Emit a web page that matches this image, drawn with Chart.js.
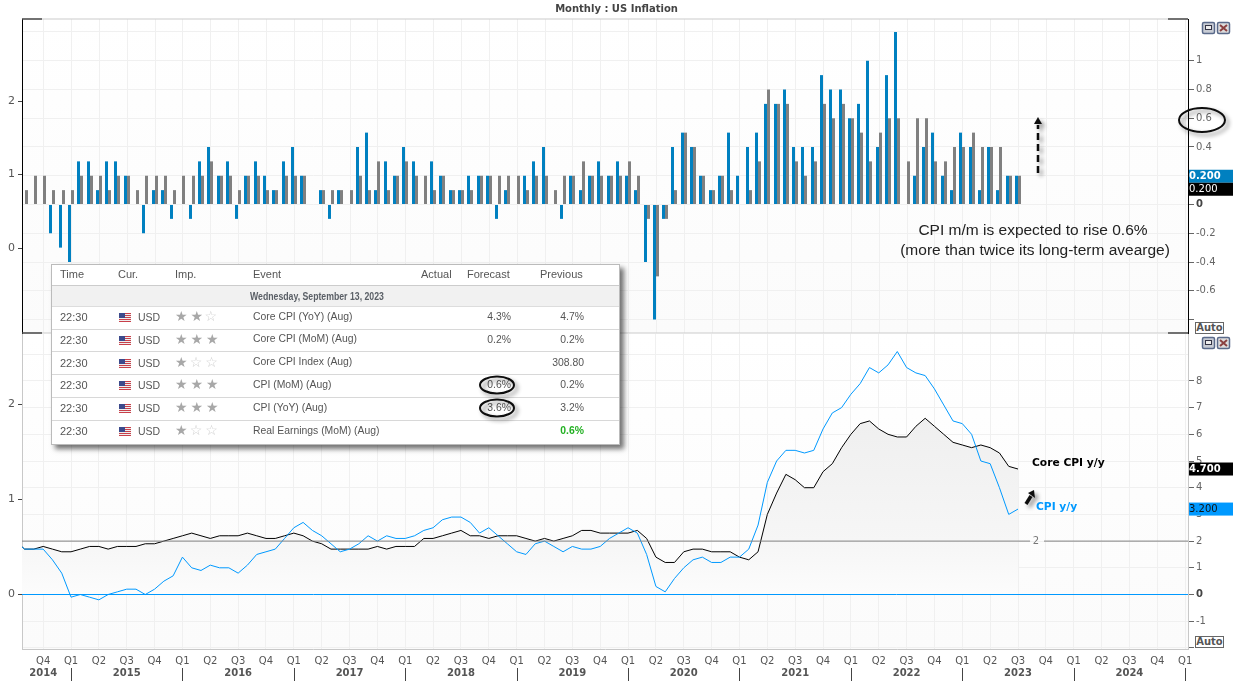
<!DOCTYPE html>
<html>
<head>
<meta charset="utf-8">
<title>Monthly : US Inflation</title>
<script src="https://cdn.jsdelivr.net/npm/chart.js@4"></script>
<style>
html, body { margin: 0; padding: 0; background: #fff; width: 1233px; height: 681px; overflow: hidden; }
canvas { position: absolute; left: 0; }
#topChart { top: 0; }
#bottomChart { top: 334px; }
.auto { position: absolute; left: 1195px; width: 27px; height: 10px; border: 1px solid #666; background: #fff;
  font: bold 10px/10px "DejaVu Sans"; color: #555; text-align: center; }
#calendar { position: absolute; left: 51px; top: 264px; width: 567px; height: 179px; background: #fff;
  border: 1px solid #bbb; box-shadow: 4px 4px 5px rgba(0,0,0,.55); font: 10.4px "Liberation Sans", Arial; color: #555; }
#calendar span { position: absolute; white-space: nowrap; }
#calendar .rule { position: absolute; left: 0; right: 0; height: 1px; background: #d8d8d8; }
#calendar .band { position: absolute; left: 0; right: 0; top: 20px; height: 20px; background: #f1f1f1; border-top: 1px solid #ccc; border-bottom: 1px solid #ddd; }
#calendar .flag { position: absolute; width: 12px; height: 9px;
  background: linear-gradient(#3c4a8c, #3c4a8c) 0 0 / 6px 5px no-repeat, repeating-linear-gradient(#c8404a 0 1px, #eee 1px 2px); }
svg { position: absolute; left: 0; top: 0; pointer-events: none; }
</style>
</head>
<body>
<canvas id="topChart" width="1233" height="334"></canvas>
<canvas id="bottomChart" width="1233" height="347"></canvas>
<div class="auto" style="top:322px">Auto</div>
<div class="auto" style="top:636px">Auto</div>
<div id="calendar"></div>
<svg width="1233" height="681">
  <defs>
    <filter id="soft" x="-50%" y="-50%" width="200%" height="200%">
      <feDropShadow dx="3" dy="3" stdDeviation="2" flood-color="#000" flood-opacity="0.45"/>
    </filter>
  </defs>
  <g filter="url(#soft)" fill="none" stroke="#111" stroke-width="2">
    <ellipse cx="1202" cy="120" rx="23" ry="12"/>
    <ellipse cx="497" cy="385" rx="17" ry="8.5"/>
    <ellipse cx="497" cy="408" rx="17" ry="8.5"/>
    <line x1="1038" y1="173" x2="1038" y2="125" stroke-width="2.5" stroke-dasharray="7 4"/>
    <path d="M1034 124 L1042 124 L1038 117 Z" fill="#111" stroke="none"/>
    <line x1="1026" y1="504" x2="1031" y2="496" stroke-width="3.5"/>
    <path d="M1028 493 L1035 498 L1034 490 Z" fill="#111" stroke="none"/>
  </g>
  <g id="winButtons"></g>
</svg>
<script>
// Jul 2014 to Jul 2023, one entry per month
const cpiMom = [null,
  0, 0, 0, -0.2, -0.3,
  -0.4, 0.3, 0.3, 0.1, 0.3, 0.3, 0.2, 0, -0.2, 0.1, 0.1, -0.1,
  0, -0.1, 0.3, 0.4, 0.2, 0.3, -0.1, 0.2, 0.3, 0.2, 0.1, 0.3,
  0.4, 0.2, 0, 0.1, -0.1, 0.1, 0, 0.4, 0.5, 0.1, 0.3, 0.2,
  0.4, 0.3, 0, 0.3, 0.2, 0.1, 0.1, 0.2, 0.2, 0.2, -0.1, 0.1,
  0, 0.2, 0.3, 0.4, 0, -0.1, 0.2, 0.1, 0.2, 0.3, 0.2, 0.3,
  0.2, 0.1, -0.4, -0.8, -0.1, 0.4, 0.5, 0.4, 0.2, 0.1, 0.2, 0.5,
  0.2, 0.4, 0.5, 0.7, 0.7, 0.8, 0.4, 0.4, 0.4, 0.9, 0.8, 0.8,
  0.6, 0.7, 1.0, 0.4, 0.9, 1.2, 0, 0.2, 0.4, 0.5, 0.2, 0.1,
  0.5, 0.4, 0.1, 0.4, 0.1, 0.2, 0.2];
const coreMom = [null,
  0.1, 0.2, 0.2, 0.1, 0.1,
  0.1, 0.2, 0.2, 0.2, 0.1, 0.2, 0.2, 0.1, 0.2, 0.2, 0.2, 0.1,
  0.2, 0.2, 0.2, 0.3, 0.2, 0.2, 0.1, 0.2, 0.2, 0.1, 0.1, 0.2,
  0.2, 0.2, 0, 0.1, 0.1, 0.1, 0.1, 0.2, 0.1, 0.3, 0.1, 0.2,
  0.3, 0.2, 0.2, 0.1, 0.2, 0.1, 0.1, 0.1, 0.2, 0.2, 0.2, 0.2,
  0.2, 0.1, 0.2, 0.2, 0.1, 0.2, 0.2, 0.3, 0.2, 0.2, 0.2, 0.2,
  0.3, 0.2, -0.1, -0.5, -0.1, 0.1, 0.5, 0.4, 0.2, 0.1, 0.2, 0.1,
  0, 0.1, 0.3, 0.8, 0.7, 0.7, 0.3, 0.2, 0.3, 0.7, 0.6, 0.7,
  0.6, 0.5, 0.3, 0.5, 0.6, 0.6, 0.3, 0.6, 0.6, 0.3, 0.3, 0.4,
  0.4, 0.5, 0.4, 0.4, 0.4, 0.2, 0.2];
const cpiYoy = [2.0,
  1.7, 1.7, 1.7, 1.3, 0.8,
  -0.1, 0.0, -0.1, -0.2, 0.0, 0.1, 0.2, 0.2, 0.0, 0.2, 0.5, 0.7,
  1.4, 1.0, 0.9, 1.1, 1.0, 1.0, 0.8, 1.1, 1.5, 1.6, 1.7, 2.1,
  2.5, 2.7, 2.4, 2.2, 1.9, 1.6, 1.7, 1.9, 2.2, 2.0, 2.2, 2.1,
  2.1, 2.2, 2.4, 2.5, 2.8, 2.9, 2.9, 2.7, 2.3, 2.5, 2.2, 1.9,
  1.6, 1.5, 1.9, 2.0, 1.8, 1.6, 1.8, 1.7, 1.7, 1.8, 2.1, 2.3,
  2.5, 2.3, 1.5, 0.3, 0.1, 0.6, 1.0, 1.3, 1.4, 1.2, 1.2, 1.4,
  1.4, 1.7, 2.6, 4.2, 5.0, 5.4, 5.4, 5.3, 5.4, 6.2, 6.8, 7.0,
  7.5, 7.9, 8.5, 8.3, 8.6, 9.1, 8.5, 8.3, 8.2, 7.7, 7.1, 6.5,
  6.4, 6.0, 5.0, 4.9, 4.0, 3.0, 3.2];
const coreYoy = [2.0,
  1.7, 1.7, 1.8, 1.7, 1.6,
  1.6, 1.7, 1.8, 1.8, 1.7, 1.8, 1.8, 1.8, 1.9, 1.9, 2.0, 2.1,
  2.2, 2.3, 2.2, 2.1, 2.2, 2.2, 2.2, 2.3, 2.2, 2.1, 2.1, 2.2,
  2.3, 2.2, 2.0, 1.9, 1.7, 1.7, 1.7, 1.7, 1.7, 1.8, 1.7, 1.8,
  1.8, 1.8, 2.1, 2.1, 2.2, 2.3, 2.4, 2.2, 2.2, 2.1, 2.2, 2.2,
  2.2, 2.1, 2.0, 2.1, 2.0, 2.1, 2.2, 2.4, 2.4, 2.3, 2.3, 2.3,
  2.3, 2.4, 2.1, 1.4, 1.2, 1.2, 1.6, 1.7, 1.7, 1.6, 1.6, 1.6,
  1.4, 1.3, 1.6, 3.0, 3.8, 4.5, 4.3, 4.0, 4.0, 4.6, 4.9, 5.5,
  6.0, 6.4, 6.5, 6.2, 6.0, 5.9, 5.9, 6.3, 6.6, 6.3, 6.0, 5.7,
  5.6, 5.5, 5.6, 5.5, 5.3, 4.8, 4.7];

const quarterLabels = ['Q4',
  'Q1','Q2','Q3','Q4','Q1','Q2','Q3','Q4','Q1','Q2','Q3','Q4','Q1','Q2','Q3','Q4','Q1','Q2','Q3','Q4',
  'Q1','Q2','Q3','Q4','Q1','Q2','Q3','Q4','Q1','Q2','Q3','Q4','Q1','Q2','Q3','Q4','Q1','Q2','Q3','Q4',
  'Q1'];
const yearLabels = ['2014','2015','2016','2017','2018','2019','2020','2021','2022','2023','2024'];
const yearCentres = [3, 12, 24, 36, 48, 60, 72, 84, 96, 108, 120];
const yearStarts = [6, 18, 30, 42, 54, 66, 78, 90, 102, 114, 126];

const topRightTicks = [-0.8, -0.6, -0.4, -0.2, 0, 0.2, 0.4, 0.6, 0.8, 1, 1.2];
const topLeftTicks = [0, 1, 2];
const bottomRightTicks = [-2, -1, 0, 1, 2, 3, 4, 5, 6, 7, 8, 9];
const bottomLeftTicks = [0, 1, 2];

const calendarRows = [
  ['Core CPI (YoY) (Aug)', 2, '4.3%', '4.7%'],
  ['Core CPI (MoM) (Aug)', 3, '0.2%', '0.2%'],
  ['Core CPI Index (Aug)', 1, '', '308.80'],
  ['CPI (MoM) (Aug)', 3, '0.6%', '0.2%'],
  ['CPI (YoY) (Aug)', 3, '3.6%', '3.2%'],
  ['Real Earnings (MoM) (Aug)', 1, '', '0.6%']
];

const X_MIN = 0.72;
const X_MAX = 126.31;
const BAR_BLUE = '#0080c0';
const LINE_BLUE = '#0099ff';
const GRID = '#f0f0f0';
const TICK_FONT = 'DejaVu Sans';

const quarterTicks = quarterLabels.map((_, i) => 3 + i * 3);
const toPoints = arr => arr.map((y, x) => ({ x, y }));

function setTicks(values) {
  return scale => { scale.ticks = values.map(value => ({ value })); };
}

function fixWidth(width) {
  return scale => { scale.width = width; scale.paddingTop = 0; scale.paddingBottom = 0; };
}

function xAxis(height, showLabels) {
  return {
    type: 'linear', min: X_MIN, max: X_MAX, offset: false,
    alignToPixels: !showLabels,
    afterBuildTicks: setTicks(quarterTicks),
    afterFit: s => { s.height = height; s.paddingLeft = 0; s.paddingRight = 0; },
    grid: { color: GRID, drawTicks: false, offset: false },
    border: { display: showLabels, color: '#c8c8c8' },
    ticks: {
      display: showLabels, autoSkip: false, maxRotation: 0, padding: 6, color: '#555',
      font: { family: TICK_FONT, size: 10 },
      callback: v => quarterLabels[(v - 3) / 3]
    }
  };
}

function isZeroTick(c) {
  return Boolean(c.tick) && c.tick.value === 0;
}

function rightAxis(min, max, values, borderColor, hiddenLabels) {
  return {
    type: 'linear', position: 'right', min, max,
    afterBuildTicks: setTicks(values),
    afterFit: fixWidth(45),
    grid: {
      color: GRID, tickLength: 6,
      tickColor: c => (c.tick && c.tick.value === values[values.length - 1] ? 'transparent' : '#666')
    },
    border: { color: borderColor },
    ticks: {
      autoSkip: false, padding: 2, color: c => (isZeroTick(c) ? '#444' : '#666'),
      font: c => ({ family: TICK_FONT, size: 10, weight: isZeroTick(c) ? 'bold' : 'normal' }),
      callback: v => (hiddenLabels.includes(v) ? '' : String(v))
    }
  };
}

function leftAxis(min, max, values, borderColor) {
  return {
    type: 'linear', position: 'left', min, max,
    afterBuildTicks: setTicks(values),
    afterFit: fixWidth(22),
    grid: { drawOnChartArea: false, tickLength: 4, tickColor: '#444' },
    border: { color: borderColor },
    ticks: { autoSkip: false, padding: 3, color: '#555', font: { family: 'DejaVu Sans', size: 11 } }
  };
}

function drawTag(ctx, top, height, bg, fg, text, weight) {
  ctx.fillStyle = bg;
  ctx.fillRect(1189, top, 44, height);
  ctx.fillStyle = fg;
  ctx.font = `${weight} 10px "DejaVu Sans"`;
  ctx.textAlign = 'left';
  ctx.textBaseline = 'middle';
  ctx.fillText(text, 1189, top + height / 2 + 0.5);
}

const plotBackground = {
  id: 'plotBackground',
  beforeDraw(chart) {
    const { ctx, chartArea: a } = chart;
    const g = ctx.createLinearGradient(0, a.top, 0, a.bottom);
    g.addColorStop(0, '#ffffff');
    g.addColorStop(1, '#fbfbfb');
    ctx.save();
    ctx.fillStyle = g;
    ctx.fillRect(a.left, a.top, a.width, a.height);
    ctx.restore();
  }
};

const topDecor = {
  id: 'topDecor',
  afterDraw(chart) {
    const { ctx, chartArea: a, scales } = chart;
    ctx.save();
    [a.top, a.bottom].forEach(y => {
      ctx.fillStyle = '#cccccc';
      ctx.fillRect(a.left, y - 0.5, a.width, 1);
      ctx.fillStyle = '#000';
      ctx.fillRect(a.left, y - 0.5, 20, 1);
      ctx.fillRect(a.right - 20, y - 0.5, 20, 1);
    });
    const y = scales.y.getPixelForValue(0.2);
    drawTag(ctx, y - 6, 13, BAR_BLUE, '#fff', '0.200', 'bold');
    drawTag(ctx, y + 7, 13, '#000', '#fff', '0.200', 'normal');
    ctx.fillStyle = '#222';
    ctx.font = '15.5px "Liberation Sans"';
    ctx.textAlign = 'center';
    ctx.textBaseline = 'middle';
    ctx.fillText('CPI m/m is expected to rise 0.6%', 1033, 231);
    ctx.fillText('(more than twice its long-term avearge)', 1035, 251);
    ctx.restore();
  }
};

const bottomDecor = {
  id: 'bottomDecor',
  afterDraw(chart) {
    const { ctx, scales } = chart;
    const x = scales.x;
    const base = chart.chartArea.bottom;
    ctx.save();
    ctx.font = 'bold 10px "DejaVu Sans"';
    ctx.textAlign = 'center';
    ctx.textBaseline = 'middle';
    ctx.fillStyle = '#555';
    yearLabels.forEach((label, i) => ctx.fillText(label, x.getPixelForValue(yearCentres[i]), base + 24));
    ctx.fillStyle = '#444';
    yearStarts.forEach(v => ctx.fillRect(Math.round(x.getPixelForValue(v)), base + 19, 1, 13));
    ctx.font = '10px "DejaVu Sans"';
    ctx.fillStyle = '#777';
    ctx.fillText('2', 1036, scales.y.getPixelForValue(2));
    ctx.font = 'bold 10.7px "DejaVu Sans"';
    ctx.textAlign = 'left';
    ctx.fillStyle = '#000';
    ctx.fillText('Core CPI y/y', 1032, 129);
    ctx.fillStyle = LINE_BLUE;
    ctx.fillText('CPI y/y', 1036, 173);
    drawTag(ctx, scales.y.getPixelForValue(4.7) - 6.5, 13, '#000', '#fff', '4.700', 'bold');
    drawTag(ctx, scales.y.getPixelForValue(3.2) - 6.5, 13, LINE_BLUE, '#111', '3.200', 'normal');
    ctx.restore();
  }
};

function coreFill(c) {
  const area = c.chart.chartArea;
  if (!area) return 'transparent';
  const g = c.chart.ctx.createLinearGradient(0, area.top + 85, 0, area.top + 260);
  g.addColorStop(0, '#efefef');
  g.addColorStop(0.7, '#f6f6f6');
  g.addColorStop(1, '#fcfcfc');
  return g;
}

new Chart(document.getElementById('topChart'), {
  type: 'bar',
  data: {
    datasets: [
      { label: 'CPI m/m', data: toPoints(cpiMom), backgroundColor: BAR_BLUE, barThickness: 3, borderWidth: 0, inflateAmount: 0 },
      { label: 'Core CPI m/m', data: toPoints(coreMom), backgroundColor: '#808080', barThickness: 3, borderWidth: 0, inflateAmount: 0 }
    ]
  },
  options: {
    responsive: false,
    animation: false,
    layout: { padding: { bottom: 1 } },
    plugins: {
      legend: { display: false },
      tooltip: { enabled: false },
      title: {
        display: true, text: 'Monthly : US Inflation', color: '#444',
        font: { family: 'DejaVu Sans', size: 10, weight: 'bold' },
        padding: { top: 3, bottom: 4 }
      }
    },
    scales: {
      x: xAxis(0, false),
      y: rightAxis(-0.8939, 1.2904, topRightTicks, '#000', [-0.8, 1.2]),
      yLeft: leftAxis(-1.156, 3.116, topLeftTicks, '#000')
    }
  },
  plugins: [plotBackground, topDecor]
});

new Chart(document.getElementById('bottomChart'), {
  type: 'line',
  data: {
    datasets: [
      {
        label: 'Core CPI y/y', data: toPoints(coreYoy), borderColor: '#000', borderWidth: 1,
        backgroundColor: coreFill, fill: 'origin', pointRadius: 0, tension: 0, order: 2
      },
      {
        label: 'CPI y/y', data: toPoints(cpiYoy), borderColor: LINE_BLUE, borderWidth: 1,
        pointRadius: 0, tension: 0, fill: false, order: 1
      },
      {
        label: 'level 2',
        data: [{ x: X_MIN, y: 2 }, { x: 109.3, y: 2 }, { x: 110, y: null }, { x: 110.8, y: 2 }, { x: X_MAX, y: 2 }],
        borderColor: '#808080', borderWidth: 1, pointRadius: 0, fill: false, order: 0
      },
      {
        label: 'level 0',
        data: [{ x: X_MIN, y: 0 }, { x: X_MAX, y: 0 }],
        borderColor: LINE_BLUE, borderWidth: 1, pointRadius: 0, fill: false, order: 0
      }
    ]
  },
  options: {
    responsive: false,
    animation: false,
    plugins: { legend: { display: false }, tooltip: { enabled: false } },
    scales: {
      x: xAxis(32, true),
      y: rightAxis(-2.041, 9.757, bottomRightTicks, '#c8c8c8', [9, -2]),
      yLeft: leftAxis(-0.574, 2.742, bottomLeftTicks, '#c8c8c8')
    }
  },
  plugins: [plotBackground, bottomDecor]
});

// window buttons at the top right of each panel
const svgNs = 'http://www.w3.org/2000/svg';
const winButtons = document.getElementById('winButtons');
function svgEl(name, attrs) {
  const el = document.createElementNS(svgNs, name);
  Object.entries(attrs).forEach(([k, v]) => el.setAttribute(k, v));
  winButtons.appendChild(el);
}
[22, 337].forEach(top => {
  svgEl('rect', { x: 1202.5, y: top + 0.5, width: 12, height: 11, rx: 1.5, fill: '#c8ccd4', stroke: '#5a6a8a', 'stroke-width': 1.5 });
  svgEl('rect', { x: 1205.5, y: top + 3.5, width: 6, height: 4, fill: '#eee', stroke: '#334' });
  svgEl('rect', { x: 1217.5, y: top + 0.5, width: 12, height: 11, rx: 1.5, fill: '#dddddd', stroke: '#5a6a8a', 'stroke-width': 1.5 });
  svgEl('path', { d: `M1220 ${top + 3} L1227 ${top + 9} M1227 ${top + 3} L1220 ${top + 9}`, stroke: '#8a4040', 'stroke-width': 2, fill: 'none' });
});

function renderCalendar() {
  const box = document.getElementById('calendar');
  const put = (left, top, text, extra) => {
    const el = document.createElement('span');
    el.style.left = left + 'px';
    el.style.top = top + 'px';
    if (extra) Object.assign(el.style, extra);
    el.textContent = text;
    box.appendChild(el);
  };
  const header = [['Time', 8], ['Cur.', 66], ['Imp.', 123], ['Event', 201], ['Actual', 369], ['Forecast', 415], ['Previous', 488]];
  header.forEach(([t, x]) => put(x, 3, t, { fontSize: '11px' }));

  const band = document.createElement('div');
  band.className = 'band';
  box.appendChild(band);
  put(198, 25, 'Wednesday, September 13, 2023', {
    fontWeight: 'bold', color: '#5a5f66', fontSize: '10.5px', transform: 'scaleX(0.83)', transformOrigin: 'left center'
  });

  calendarRows.forEach((row, i) => {
    const centre = 52 + i * 22.8;
    if (i < calendarRows.length - 1) {
      const rule = document.createElement('div');
      rule.className = 'rule';
      rule.style.top = (centre + 11.5) + 'px';
      box.appendChild(rule);
    }
    put(8, centre - 6, '22:30', { fontSize: '11px' });
    const flag = document.createElement('div');
    flag.className = 'flag';
    flag.style.left = '67px';
    flag.style.top = (centre - 4) + 'px';
    box.appendChild(flag);
    put(86, centre - 6, 'USD', { fontSize: '10.5px' });
    const starStyle = { fontSize: '14px', fontFamily: 'DejaVu Sans', letterSpacing: '3px' };
    put(123, centre - 9, '★'.repeat(row[1]), { ...starStyle, color: '#a8a8a8' });
    put(123 + row[1] * 14.7, centre - 9, '☆'.repeat(3 - row[1]), { ...starStyle, color: '#cfcfcf' });
    put(201, centre - 6.5, row[0]);
    put(0, centre - 6, row[2], { right: '108px', left: 'auto' });
    put(0, centre - 6, row[3], { right: '35px', left: 'auto', color: i === 5 ? '#22b022' : '#555', fontWeight: i === 5 ? 'bold' : 'normal' });
  });
}

renderCalendar();
</script>
</body>
</html>
